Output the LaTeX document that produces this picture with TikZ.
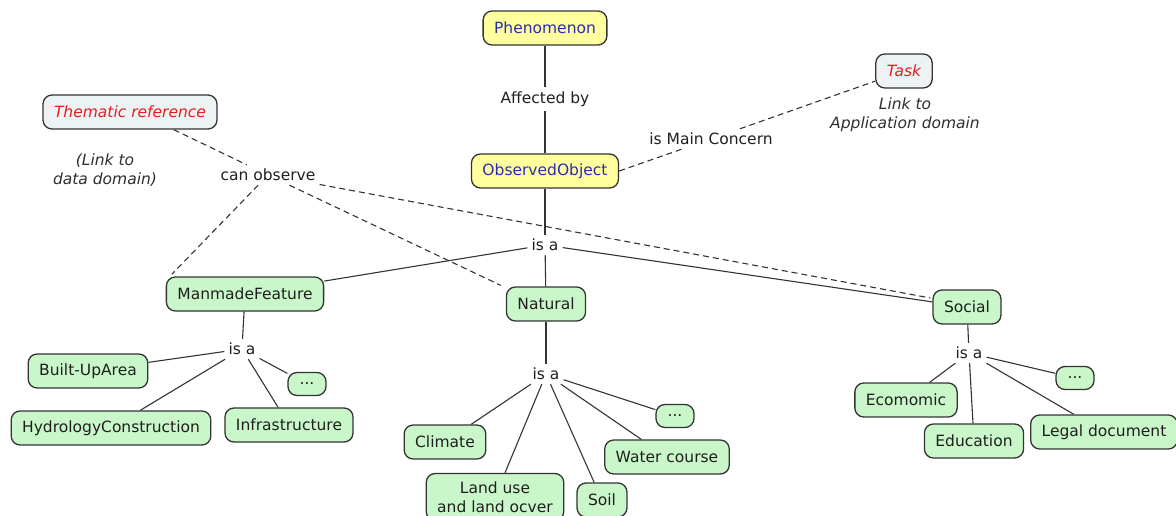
\documentclass[tikz,border=0pt]{standalone}
\usepackage{fontspec}
\setmainfont{DejaVu Sans}
\usetikzlibrary{calc}
\definecolor{edgegray}{HTML}{333333}
\definecolor{conceptyellow}{HTML}{FFFF9E}
\definecolor{conceptgreen}{HTML}{C9F7C9}
\definecolor{refgray}{HTML}{EDF3F5}
\definecolor{conceptblue}{HTML}{2B2BB5}
\definecolor{refred}{HTML}{E0201C}
\begin{document}
\begin{tikzpicture}[x=1pt,y=-1pt,
  font=\fontsize{15.5}{19}\selectfont,
  concept/.style={draw=edgegray,line width=1.3pt,rounded corners=9pt,
    minimum height=34pt,inner xsep=11pt,inner ysep=4pt,text=black!88},
  topconcept/.style={concept,fill=conceptyellow,text=conceptblue},
  leaf/.style={concept,fill=conceptgreen},
  dotsbox/.style={leaf,minimum height=23pt,minimum width=38pt,inner xsep=2pt,inner ysep=0pt},
  refbox/.style={concept,fill=refgray,text=refred,font=\fontsize{15.5}{19}\selectfont\itshape},
  linkword/.style={inner sep=4pt,text=black!88},
  note/.style={align=center,text=black!82,font=\fontsize{15.5}{19}\selectfont\itshape},
  link/.style={draw=edgegray,line width=1.1pt},
  dlink/.style={link,dash pattern=on 6pt off 4pt}]
\useasboundingbox (0,0) rectangle (1176,516);

% upper concepts
\node[topconcept] (phen) at (545,28) {Phenomenon};
\node[topconcept] (obs) at (545,171) {ObservedObject};
\node[refbox] (task) at (904,71) {Task};
\node[refbox] (them) at (130,112) {Thematic reference};
\node[note] (tasknote) at (905,115) {Link to\\Application domain};
\node[note] (themnote) at (105,170) {(Link to\\data domain)};

% linking words
\node[linkword] (aff) at (545,99) {Affected by};
\node[linkword] (main) at (711,139) {is Main Concern};
\node[linkword] (canobs) at (268,175) {can observe};
\node[linkword] (isa) at (545,245) {is a};
\node[linkword] (isam) at (242,349) {is a};
\node[linkword] (isan) at (546,374) {is a};
\node[linkword] (isas) at (969,353) {is a};

% second level
\node[leaf] (manmade) at (245,294) {ManmadeFeature};
\node[leaf] (natural) at (546,304) {Natural};
\node[leaf] (social) at (967,307) {Social};

% manmade features
\node[leaf] (built) at (88,371) {Built-UpArea};
\node[dotsbox] (mdots) at (307,384) {...};
\node[leaf] (hydro) at (111,428) {HydrologyConstruction};
\node[leaf] (infra) at (289,425) {Infrastructure};

% natural features
\node[leaf] (climate) at (445,442) {Climate};
\node[leaf,align=center,inner ysep=8pt] (landuse) at (495,497) {Land use\\and land ocver};
\node[leaf] (soil) at (602,500) {Soil};
\node[dotsbox] (ndots) at (675,416) {...};
\node[leaf] (water) at (667,457) {Water course};

% social features
\node[leaf] (econ) at (906,400) {Ecomomic};
\node[dotsbox] (sdots) at (1075,378) {...};
\node[leaf] (edu) at (974,441) {Education};
\node[leaf] (legal) at (1104,432) {Legal document};

% solid links
\draw[link] (phen) -- (aff) -- (obs);
\draw[link] (obs) -- (isa);
\draw[link] (isa) -- (manmade);
\draw[link] (isa) -- (natural);
\draw[link] (isa) -- (social);
\draw[link] (manmade) -- (isam);
\foreach \c in {built,mdots,hydro,infra} \draw[link] (isam) -- (\c);
\draw[link] (natural) -- (isan);
\foreach \c in {climate,landuse,soil,ndots,water} \draw[link] (isan) -- (\c);
\draw[link] (social) -- (isas);
\foreach \c in {econ,sdots,edu,legal} \draw[link] (isas) -- (\c);

% dashed links
\draw[dlink] (obs.east) -- (main) -- (task);
\draw[dlink] (them.-22) -- (canobs);
\draw[dlink] (canobs) -- ($(manmade.north west)+(6,-2)$);
\draw[dlink] (canobs) -- ($(natural.north west)+(-5,-1)$);
\draw[dlink] (canobs) -- ($(social.west)+(-2,-9)$);
\end{tikzpicture}
\end{document}
